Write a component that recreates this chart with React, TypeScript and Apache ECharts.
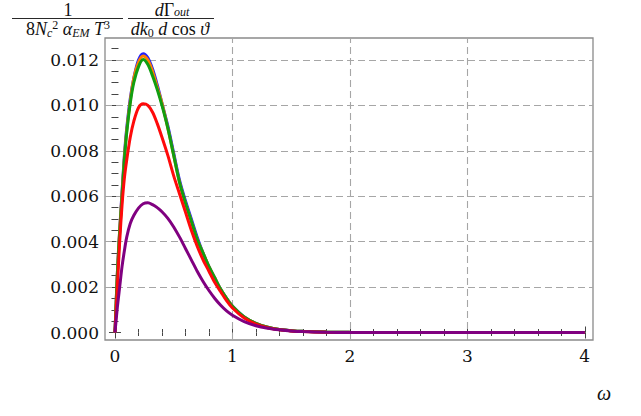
import React, { useEffect, useRef } from "react";
import * as echarts from "echarts";

// ω sample points
const omega = [0, 0.02, 0.04, 0.06, 0.08, 0.1, 0.13, 0.16, 0.2, 0.24, 0.28, 0.32, 0.36, 0.4, 0.45, 0.5, 0.55, 0.6, 0.65, 0.7, 0.75, 0.8, 0.85, 0.9, 0.95, 1.0, 1.1, 1.2, 1.3, 1.4, 1.5, 1.6, 1.8, 2.0, 2.5, 3.0, 3.5, 4.0];

const blueValues = [0, 0.0026, 0.0045, 0.0062, 0.0078, 0.009, 0.0103, 0.0112, 0.012, 0.01228, 0.0121, 0.0116, 0.0109, 0.0101, 0.0091, 0.0079, 0.0067, 0.0058, 0.005, 0.0042, 0.0035, 0.0029, 0.0024, 0.0019, 0.0015, 0.00117, 0.00069, 0.0004, 0.00023, 0.00013, 0.00008, 0.00005, 0.00002, 0.00001, 0, 0, 0, 0];
const orangeValues = [0, 0.0026, 0.0045, 0.0061, 0.0077, 0.0089, 0.0102, 0.0112, 0.0119, 0.01218, 0.012, 0.0115, 0.0108, 0.0101, 0.009, 0.0078, 0.0066, 0.0057, 0.0049, 0.0041, 0.0035, 0.0029, 0.0024, 0.0019, 0.0015, 0.00116, 0.00068, 0.0004, 0.00023, 0.00013, 0.00008, 0.00005, 0.00002, 0.00001, 0, 0, 0, 0];
const greenValues = [0, 0.0025, 0.0044, 0.006, 0.0076, 0.0088, 0.0101, 0.011, 0.0117, 0.01202, 0.0118, 0.0113, 0.0107, 0.01, 0.009, 0.0078, 0.0066, 0.0057, 0.0049, 0.0041, 0.0035, 0.0029, 0.0024, 0.0019, 0.0015, 0.00115, 0.00068, 0.0004, 0.00023, 0.00013, 0.00008, 0.00005, 0.00002, 0.00001, 0, 0, 0, 0];
const redValues = [0, 0.002, 0.004, 0.0056, 0.0068, 0.0076, 0.0086, 0.0093, 0.0099, 0.01007, 0.01, 0.0097, 0.0092, 0.0086, 0.0078, 0.0069, 0.0061, 0.0053, 0.0045, 0.0038, 0.0032, 0.0027, 0.0022, 0.0018, 0.0014, 0.00108, 0.00064, 0.00037, 0.00021, 0.00012, 0.00007, 0.00004, 0.00001, 0, 0, 0, 0, 0];
const purpleValues = [0, 0.0011, 0.002, 0.0029, 0.0036, 0.0042, 0.0048, 0.00515, 0.00548, 0.00567, 0.00571, 0.00563, 0.0055, 0.00532, 0.00503, 0.00465, 0.0042, 0.0037, 0.0032, 0.0027, 0.00225, 0.00185, 0.0015, 0.0012, 0.00095, 0.00076, 0.00048, 0.0003, 0.00019, 0.00012, 0.00007, 0.00004, 0.00001, 0, 0, 0, 0, 0];

const xMajorTicks = [0, 1, 2, 3, 4];
const xMinorTicks = [0.2, 0.4, 0.6, 0.8, 1.2, 1.4, 1.6, 1.8, 2.2, 2.4, 2.6, 2.8, 3.2, 3.4, 3.6, 3.8];
const yMajorTicks = [0, 0.002, 0.004, 0.006, 0.008, 0.01, 0.012];
const yMinorTicks = [0.0005, 0.001, 0.0015, 0.0025, 0.003, 0.0035, 0.0045, 0.005, 0.0055, 0.0065, 0.007, 0.0075, 0.0085, 0.009, 0.0095, 0.0105, 0.011, 0.0115, 0.0125];
const xGridValues = [1, 2, 3];
const yGridValues = [0.002, 0.004, 0.006, 0.008, 0.01, 0.012];

const X_MIN = -0.085;
const X_MAX = 4.07;
const Y_MIN = -0.00033;
const Y_MAX = 0.01297;

const SERIF = "'Liberation Serif', 'DejaVu Serif', serif";
const TICK_FONT = "'DejaVu Serif', serif";
const TICK_COLOR = "#444";

function pairs(vals: number[]) {
  return omega.map((w, i) => [w, vals[i]]);
}

function xAxisDef(position: "bottom" | "top", ticks: number[], len: number, labels: boolean) {
  return {
    type: "value",
    position,
    min: X_MIN,
    max: X_MAX,
    axisLine: { show: false },
    splitLine: { show: false },
    axisTick: { show: true, inside: true, length: len, customValues: ticks, lineStyle: { color: TICK_COLOR, width: 1 } },
    axisLabel: labels
      ? { show: true, customValues: ticks, fontSize: 17, fontFamily: TICK_FONT, color: "#111", margin: 7, formatter: (v: number) => String(v) }
      : { show: false },
  };
}

function yAxisDef(position: "left" | "right", ticks: number[], len: number, labels: boolean) {
  return {
    type: "value",
    position,
    min: Y_MIN,
    max: Y_MAX,
    axisLine: { show: false },
    splitLine: { show: false },
    axisTick: { show: true, inside: true, length: len, customValues: ticks, lineStyle: { color: TICK_COLOR, width: 1 } },
    axisLabel: labels
      ? { show: true, customValues: ticks, fontSize: 17, fontFamily: TICK_FONT, color: "#111", margin: 6, formatter: (v: number) => v.toFixed(3) }
      : { show: false },
  };
}

export default function App() {
  const ref = useRef<HTMLDivElement>(null);
  useEffect(() => {
    if (!ref.current) return;
    const chart = echarts.init(ref.current, null, { renderer: "svg" });
    const lineSeries = (name: string, vals: number[], color: string, z: number, extra: any = {}) => ({
      name,
      type: "line",
      data: pairs(vals),
      xAxisIndex: 0,
      yAxisIndex: 0,
      showSymbol: false,
      smooth: 0.3,
      lineStyle: { color, width: 3 },
      itemStyle: { color },
      z,
      ...extra,
    });
    const gridLineData = [
      ...xGridValues.map((v) => [{ coord: [v, Y_MIN] }, { coord: [v, Y_MAX] }]),
      ...yGridValues.map((v) => [{ coord: [X_MIN, v] }, { coord: [X_MAX, v] }]),
    ];
    const base = { fontFamily: SERIF, fill: "#111" };
    // denominator styles
    const main = { fontSize: 18, fontFamily: SERIF, lineHeight: 20, verticalAlign: "middle" };
    const mainIt = { ...main, fontStyle: "italic" };
    const sub = { fontSize: 12, fontFamily: SERIF, fontStyle: "italic", lineHeight: 12, verticalAlign: "bottom" };
    const subUp = { fontSize: 12, fontFamily: SERIF, lineHeight: 12, verticalAlign: "bottom" };
    const sup = { fontSize: 12, fontFamily: SERIF, lineHeight: 12, verticalAlign: "top" };
    const rich = { m: main, i: mainIt, s: sub, su: subUp, p: sup };
    // numerator styles
    const nMain = { fontSize: 18, fontFamily: SERIF, lineHeight: 16, verticalAlign: "middle" };
    const richNum = {
      m: nMain,
      i: { ...nMain, fontStyle: "italic" },
      s: { fontSize: 12, fontFamily: SERIF, fontStyle: "italic", lineHeight: 10, verticalAlign: "bottom" },
    };
    chart.setOption({
      animation: false,
      backgroundColor: "#fff",
      grid: { left: 105, right: 48, top: 38, bottom: 76, show: true, borderColor: "#8a8a8a", borderWidth: 1.3, backgroundColor: "transparent" },
      xAxis: [
        xAxisDef("bottom", xMajorTicks, 6, true),
        xAxisDef("bottom", xMinorTicks, 3.5, false),
        xAxisDef("top", xMajorTicks, 6, false),
        xAxisDef("top", xMinorTicks, 3.5, false),
      ],
      yAxis: [
        yAxisDef("left", yMajorTicks, 6, true),
        yAxisDef("left", yMinorTicks, 3.5, false),
        yAxisDef("right", yMajorTicks, 6, false),
        yAxisDef("right", yMinorTicks, 3.5, false),
      ],
      series: [
        lineSeries("blue", blueValues, "#2020ff", 2, {
          markLine: {
            silent: true,
            symbol: "none",
            z: 1,
            label: { show: false },
            lineStyle: { color: "#a6a6a6", type: [7, 4], width: 1.1 },
            data: gridLineData,
          },
        }),
        lineSeries("orange", orangeValues, "#ff8000", 3),
        lineSeries("green", greenValues, "#119e11", 4),
        lineSeries("red", redValues, "#ff0a0a", 5),
        lineSeries("purple", purpleValues, "#800080", 6),
      ],
      graphic: [
        { type: "text", left: 597, top: 383, style: { text: "ω", fontSize: 20, fontStyle: "italic", ...base } },
        // fraction 1
        { type: "text", x: 68, y: 9.5, style: { text: "1", fontSize: 18, ...base, align: "center", verticalAlign: "middle" } },
        { type: "line", shape: { x1: 12, y1: 18.5, x2: 123, y2: 18.5 }, style: { stroke: "#111", lineWidth: 0.9 } },
        {
          type: "text", x: 68, y: 29,
          style: {
            text: "{m|8}{i|N}{s|c}{p|2}{i| α}{s|EM}{i| T}{p|3}",
            rich, ...base, align: "center", verticalAlign: "middle",
          },
        },
        // fraction 2
        {
          type: "text", x: 172, y: 9.5,
          style: { text: "{i|d}{m|Γ}{s|out}", rich: richNum, ...base, align: "center", verticalAlign: "middle" },
        },
        { type: "line", shape: { x1: 128, y1: 18.5, x2: 214, y2: 18.5 }, style: { stroke: "#111", lineWidth: 0.9 } },
        {
          type: "text", x: 170, y: 29,
          style: { text: "{i|dk}{su|0}{i| d}{m| cos }{i|ϑ}", rich, ...base, align: "center", verticalAlign: "middle" },
        },
      ],
    });
    return () => chart.dispose();
  }, []);
  return (
    <div
      ref={ref}
      style={{ position: "fixed", left: 0, top: 0, width: 641, height: 416, background: "#fff" }}
    />
  );
}
